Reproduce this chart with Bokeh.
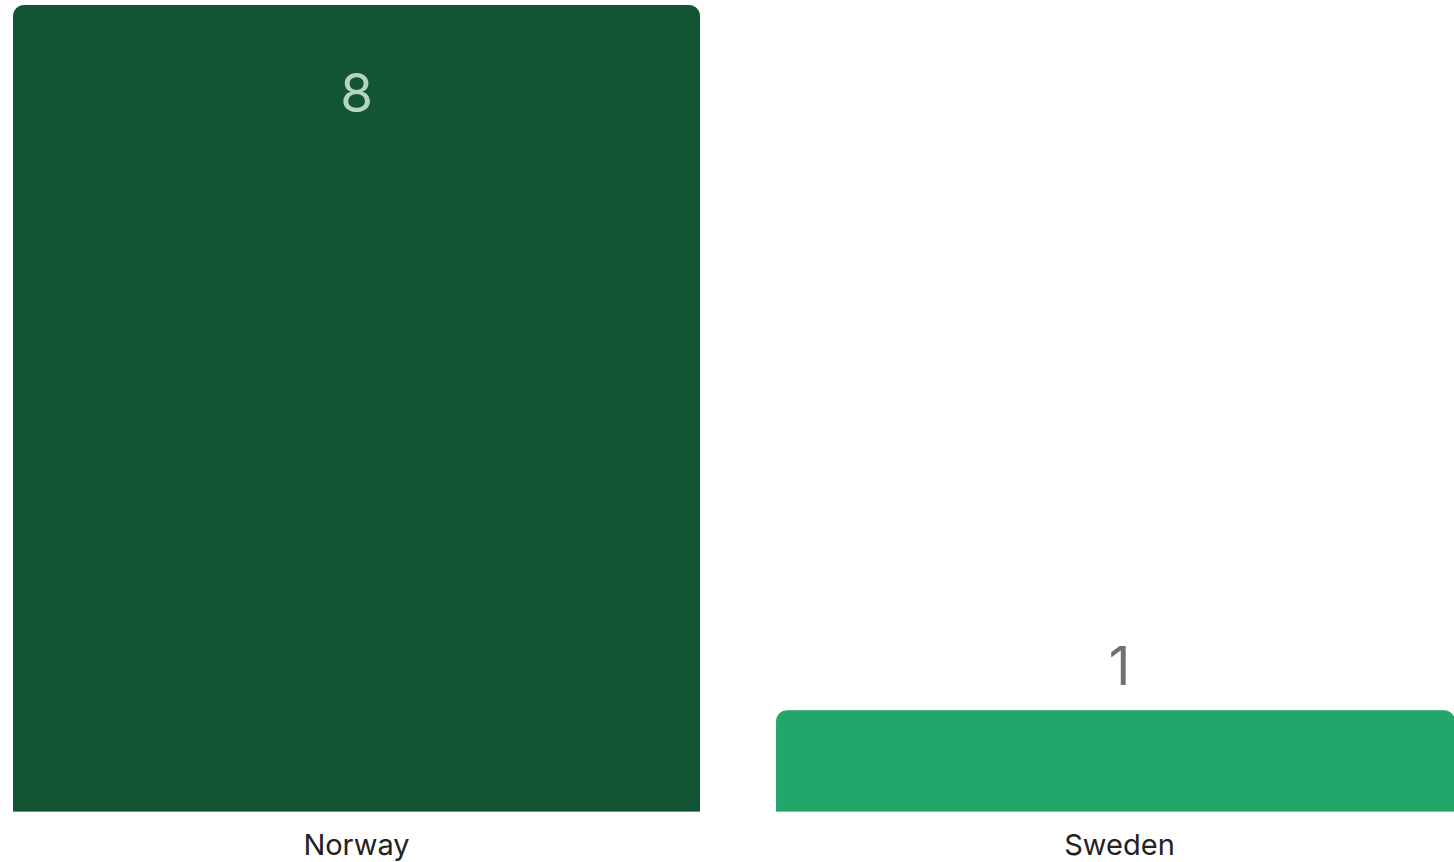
from bokeh.plotting import figure
from bokeh.models import ColumnDataSource, FixedTicker, Range1d
from bokeh.core.properties import value
from bokeh.embed import file_html
from bokeh.resources import INLINE

# Medal counts by country
countries = ["Norway", "Sweden"]
medals = [8, 1]
bar_colors = ["#125434", "#23a66a"]
label_colors = ["#b5d5c1", "#707070"]

xs = list(range(len(countries)))
top_value = max(medals)
# label sits inside the tallest bar, above the others
offsets = [87 if m == top_value else -45 for m in medals]

source = ColumnDataSource(dict(
    x=xs, top=medals, color=bar_colors,
    label=[str(m) for m in medals], label_color=label_colors, offset=offsets,
))

p = figure(
    frame_width=1454, frame_height=811,
    x_range=Range1d(-0.4666, 1.439), y_range=Range1d(0, 8.05),
    output_backend="svg", toolbar_location=None,
    min_border_left=0, min_border_right=0, min_border_top=0, min_border_bottom=51,
)

p.vbar(x="x", top="top", bottom=0, width=0.899, color="color", source=source,
       border_radius=(10, 10, 0, 0))

p.text(x="x", y="top", text="label", text_color="label_color", y_offset="offset",
       text_align="center", text_baseline="middle",
       text_font=value("Inter"), text_font_size="53px", source=source)

p.xaxis.ticker = FixedTicker(ticks=xs)
p.xaxis.major_label_overrides = {i: c for i, c in zip(xs, countries)}
p.xaxis.axis_line_color = None
p.xaxis.major_tick_line_color = None
p.xaxis.minor_tick_line_color = None
p.xaxis.major_tick_out = 0
p.xaxis.major_tick_in = 0
p.xaxis.major_label_text_font = "Inter"
p.xaxis.major_label_text_font_size = "29px"
p.xaxis.major_label_text_color = "#222222"
p.xaxis.major_label_standoff = 15
p.yaxis.visible = False
p.xgrid.visible = False
p.ygrid.visible = False
p.outline_line_color = None
p.background_fill_color = "white"
p.border_fill_color = "white"

open("out.html", "w").write(file_html(p, INLINE))
